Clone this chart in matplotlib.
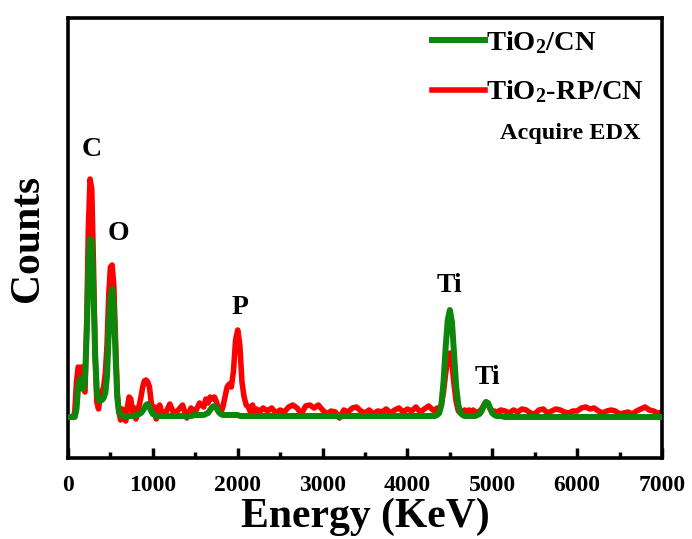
import numpy as np
import matplotlib
matplotlib.use("Agg")
import matplotlib.pyplot as plt
from matplotlib.ticker import MultipleLocator

plt.rcParams['font.family'] = ['Liberation Serif', 'DejaVu Serif']
plt.rcParams['font.weight'] = 'bold'
plt.rcParams['mathtext.fontset'] = 'custom'
plt.rcParams['mathtext.rm'] = 'Liberation Serif:bold'
plt.rcParams['mathtext.it'] = 'Liberation Serif:bold'
plt.rcParams['mathtext.bf'] = 'Liberation Serif:bold'

# ---------------- data (counts in arbitrary units) ----------------
energy_low = list(range(0, 1101, 20))           # 0 .. 1100 eV sampled every 20
energy_mid1 = list(range(1150, 1551, 50))       # 1150 .. 1550
energy_p = list(range(1600, 2301, 25))          # 1600 .. 2300
energy_mid2 = list(range(2350, 4301, 50))       # 2350 .. 4300
energy_ti = list(range(4325, 5101, 25))         # 4325 .. 5100
energy_high = list(range(5150, 7001, 50))       # 5150 .. 7000

green_low = [0, 0, 0, 0, 0, 8, 30, 38, 32, 28, 38, 82, 145, 178, 176, 126, 62, 25, 17, 16,
             17, 19, 24, 41, 85, 119, 128, 110, 62, 20, 5, 2, 1, 1, 1, 1, 1, 1, 1, 1,
             2, 2, 3, 4, 6, 9, 12, 13, 10, 6, 3, 2, 1, 1, 1, 1]
red_low = [0, 0, 0, 0, 5, 35, 50, 48, 50, 28, 25, 92, 190, 238, 228, 154, 62, 15, 8, 22,
           25, 30, 44, 72, 122, 150, 152, 131, 77, 25, 5, -3, 8, 3, -4, 10, 20, 18, 5, 9,
           -2, 6, 12, 20, 30, 36, 37, 35, 30, 15, 5, 10, -2, 4, 12, 6]

green_mid1 = [1, 1, 1, 1, 1, 1, 1, 2, 2]
red_mid1 = [4, 13, 3, 7, 12, -1, 9, 5, 14]

green_p = [2, 3, 4, 7, 10, 11, 9, 5, 3, 2, 2, 2, 2, 2, 2, 2, 2, 1, 1, 1,
           1, 1, 1, 1, 1, 1, 1, 1, 1]
red_p = [10, 18, 14, 20, 18, 20, 15, 8, 4, 10, 20, 30, 33, 30, 46, 77, 87, 72, 35, 20,
         12, 10, 5, 12, 4, 8, 3, 7, 9]

green_mid2 = [1] * 40
red_mid2 = [6, 9, 4, 7, 5, 10, 12, 9, 3, 11, 12, 9, 12, 7, 3, 6, 5, -1, 7, 5,
            9, 10, 6, 4, 7, 3, 6, 5, 8, 4, 7, 9, 5, 8, 6, 10, 5, 8, 11, 7]

green_ti = [1, 2, 4, 12, 35, 69, 97, 107, 95, 63, 30, 12, 4, 2, 1, 1, 1, 1, 1, 1,
            2, 3, 6, 11, 15, 14, 9, 4, 2, 1, 1, 1]
red_ti = [6, 9, 7, 12, 25, 43, 59, 64, 53, 32, 15, 6, 4, 6, 7, 4, 7, 4, 7, 5,
          4, 6, 8, 12, 15, 13, 8, 4, 6, 3, 6, 7]

green_high = [0] * 38
red_high = [6, 4, 7, 5, 8, 7, 4, 3, 7, 8, 4, 6, 8, 7, 5, 4, 6, 6, 9, 10,
            8, 9, 6, 4, 6, 7, 6, 3, 4, 5, 3, 6, 8, 10, 7, 6, 4, 5]

energy = energy_low + energy_mid1 + energy_p + energy_mid2 + energy_ti + energy_high
counts_tio2_cn = green_low + green_mid1 + green_p + green_mid2 + green_ti + green_high
counts_tio2_rp_cn = red_low + red_mid1 + red_p + red_mid2 + red_ti + red_high

peak_labels = ['C', 'O', 'P', 'Ti', 'Ti']
peak_label_x = [283, 589, 2027, 4490, 4938]
peak_label_y = [268, 183, 109, 132, 39]

series_labels = ['TiO$_{2}$/CN', 'TiO$_{2}$-RP/CN']
x_ticks = [0, 1000, 2000, 3000, 4000, 5000, 6000, 7000]

# ---------------- figure ----------------
fig = plt.figure(figsize=(6.92, 5.39), dpi=100)
ax = fig.add_axes([68 / 692, 81 / 539, 594 / 692, 440 / 539])

green = '#0c870c'
red = '#ff0000'
ax.plot(energy, counts_tio2_rp_cn, color=red, lw=4.0, solid_joinstyle='round',
        label=series_labels[1], zorder=2)
ax.plot(energy, counts_tio2_cn, color=green, lw=4.3, solid_joinstyle='round',
        label=series_labels[0], zorder=3)

for lab, lx, ly in zip(peak_labels, peak_label_x, peak_label_y):
    ax.text(lx, ly, lab, ha='center', va='center', fontsize=20, fontweight='bold')

ax.set_xlim(0, 7000)
ax.set_ylim(-41, 399)
ax.set_xticks(x_ticks)
ax.xaxis.set_minor_locator(MultipleLocator(500))
ax.set_yticks([])
ax.tick_params(axis='x', which='major', direction='in', length=7, width=2.5,
               labelsize=17, pad=12, top=False)
ax.tick_params(axis='x', which='minor', direction='in', length=4, width=2.5, top=False)
for lab in ax.get_xticklabels():
    lab.set_fontweight('bold')
for sp in ax.spines.values():
    sp.set_linewidth(2.6)

ax.set_xlabel('Energy (KeV)', fontsize=30, fontweight='bold')
ax.xaxis.set_label_coords(0.5, -0.09)
ax.xaxis.label.set_va('top')
ax.set_ylabel('Counts', fontsize=30, fontweight='bold')
ax.yaxis.set_label_coords(-0.036, 0.5)

handles, labels = ax.get_legend_handles_labels()
leg = ax.legend(handles[::-1], labels[::-1], loc='upper left',
                bbox_to_anchor=(432 / 692, 1 - 29 / 539), bbox_transform=fig.transFigure,
                frameon=False, prop={'family': 'Liberation Serif', 'weight': 'bold', 'size': 20.5},
                handlelength=1.85, handletextpad=0.06, labelspacing=0.8,
                borderpad=0, borderaxespad=0)
fig.text(570 / 692, 1 - 133 / 539, 'Acquire EDX', ha='center', va='center',
         fontsize=17.5, fontweight='bold')

fig.savefig('out.png', dpi=100)
